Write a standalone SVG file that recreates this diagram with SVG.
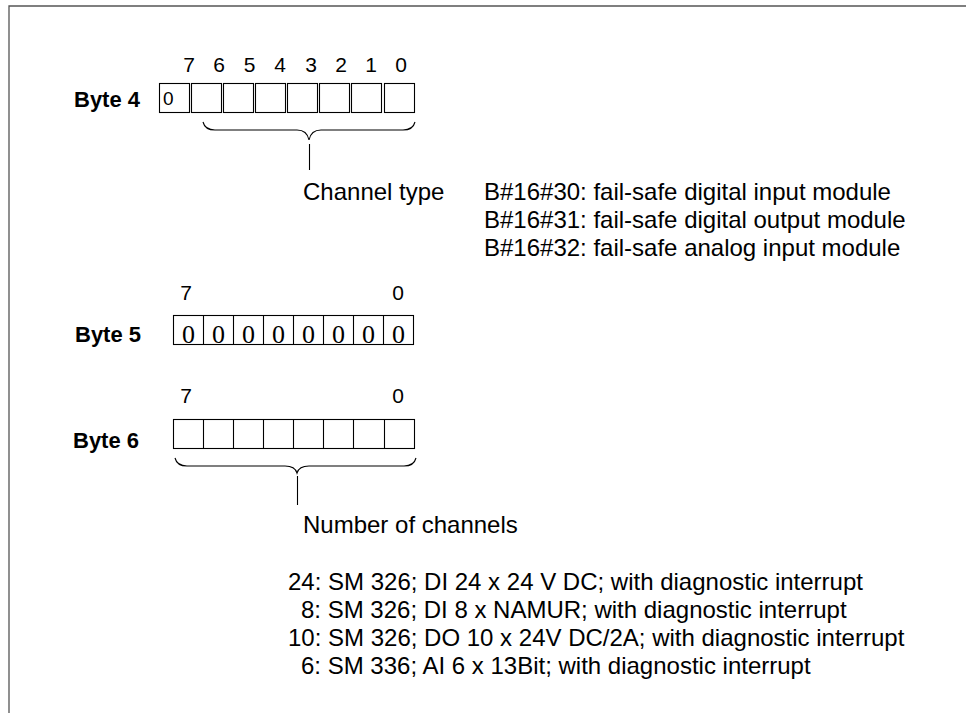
<svg xmlns="http://www.w3.org/2000/svg" width="966" height="713" viewBox="0 0 966 713">
<style>
.t{font-family:"Liberation Sans",Arial,sans-serif;font-size:24px;fill:#000}
.n{font-family:"Liberation Sans",Arial,sans-serif;font-size:21px;fill:#000;text-anchor:middle}
.b{font-family:"Liberation Sans",Arial,sans-serif;font-size:22px;font-weight:bold;fill:#000}
.s{font-family:"Liberation Serif","Times New Roman",serif;font-size:26px;fill:#000;text-anchor:middle}
.box{fill:#fff;stroke:#000;stroke-width:1.1}
.br{fill:none;stroke:#000;stroke-width:1.1}
</style>
<rect width="966" height="713" fill="#fff"/>
<g id="frame">
<path d="M9,713 V6 H966" fill="none" stroke="#555" stroke-width="1.3"/>
</g>
<g id="byte4">
<text class="b" x="74" y="107">Byte 4</text>
<g class="n">
<text x="189" y="72">7</text><text x="219" y="72">6</text><text x="249.5" y="72">5</text><text x="280" y="72">4</text>
<text x="311" y="72">3</text><text x="341" y="72">2</text><text x="371" y="72">1</text><text x="401" y="72">0</text>
</g>
<rect class="box" x="159.5" y="83.5" width="30" height="29"/>
<rect class="box" x="191.5" y="83.5" width="30" height="29"/>
<rect class="box" x="223.5" y="83.5" width="30" height="29"/>
<rect class="box" x="255.5" y="83.5" width="30" height="29"/>
<rect class="box" x="287.5" y="83.5" width="30" height="29"/>
<rect class="box" x="319.5" y="83.5" width="30" height="29"/>
<rect class="box" x="351.5" y="83.5" width="30" height="29"/>
<rect class="box" x="384.5" y="83.5" width="30" height="29"/>
<text class="t" x="163" y="105" style="font-size:19px">0</text>
</g>
<g id="channelType">
<text class="t" x="303" y="200">Channel type</text>
<text class="t" x="484" y="200">B#16#30: fail-safe digital input module</text>
<text class="t" x="484" y="228">B#16#31: fail-safe digital output module</text>
<text class="t" x="484" y="256">B#16#32: fail-safe analog input module</text>
</g>
<g id="byte5">
<text class="b" x="75" y="342">Byte 5</text>
<text class="n" x="186" y="300">7</text>
<text class="n" x="398" y="300">0</text>
<rect class="box" x="173.5" y="315.5" width="240" height="29"/>
<path d="M203.5,315.5V344.5M233.5,315.5V344.5M263.5,315.5V344.5M293.5,315.5V344.5M323.5,315.5V344.5M353.5,315.5V344.5M383.5,315.5V344.5" stroke="#000" stroke-width="1.1"/>
<g class="s">
<text x="188.5" y="343">0</text><text x="218.5" y="343">0</text><text x="248.5" y="343">0</text><text x="278.5" y="343">0</text>
<text x="308.5" y="343">0</text><text x="338.5" y="343">0</text><text x="368.5" y="343">0</text><text x="398.5" y="343">0</text>
</g>
</g>
<g id="byte6">
<text class="b" x="73" y="448">Byte 6</text>
<text class="n" x="186" y="403">7</text>
<text class="n" x="398" y="403">0</text>
<rect class="box" x="173.5" y="419.5" width="241" height="29"/>
<path d="M203.5,419.5V448.5M233.5,419.5V448.5M263.5,419.5V448.5M293.5,419.5V448.5M323.5,419.5V448.5M353.5,419.5V448.5M384.5,419.5V448.5" stroke="#000" stroke-width="1.1"/>
</g>
<g id="numChannels">
<text class="t" x="303" y="533">Number of channels</text>
<text class="t" x="288" y="590">24: SM 326; DI 24 x 24 V DC; with diagnostic interrupt</text>
<text class="t" x="301" y="618">8: SM 326; DI 8 x NAMUR; with diagnostic interrupt</text>
<text class="t" x="288" y="646">10: SM 326; DO 10 x 24V DC/2A; with diagnostic interrupt</text>
<text class="t" x="301" y="674">6: SM 336; AI 6 x 13Bit; with diagnostic interrupt</text>
</g>
<g id="connectors">
<path class="br" d="M203,122 Q205,130 215,130 L297,130 Q307,130 309,140 Q311,130 321,130 L403,130 Q413,130 415,122"/>
<path class="br" d="M309.5,144 V170"/>
<path class="br" d="M175,458 Q177,466 187,466 L285,466 Q295,466 297,473 Q299,466 309,466 L404,466 Q414,466 416,458"/>
<path class="br" d="M297.5,476 V505"/>
</g>
</svg>
